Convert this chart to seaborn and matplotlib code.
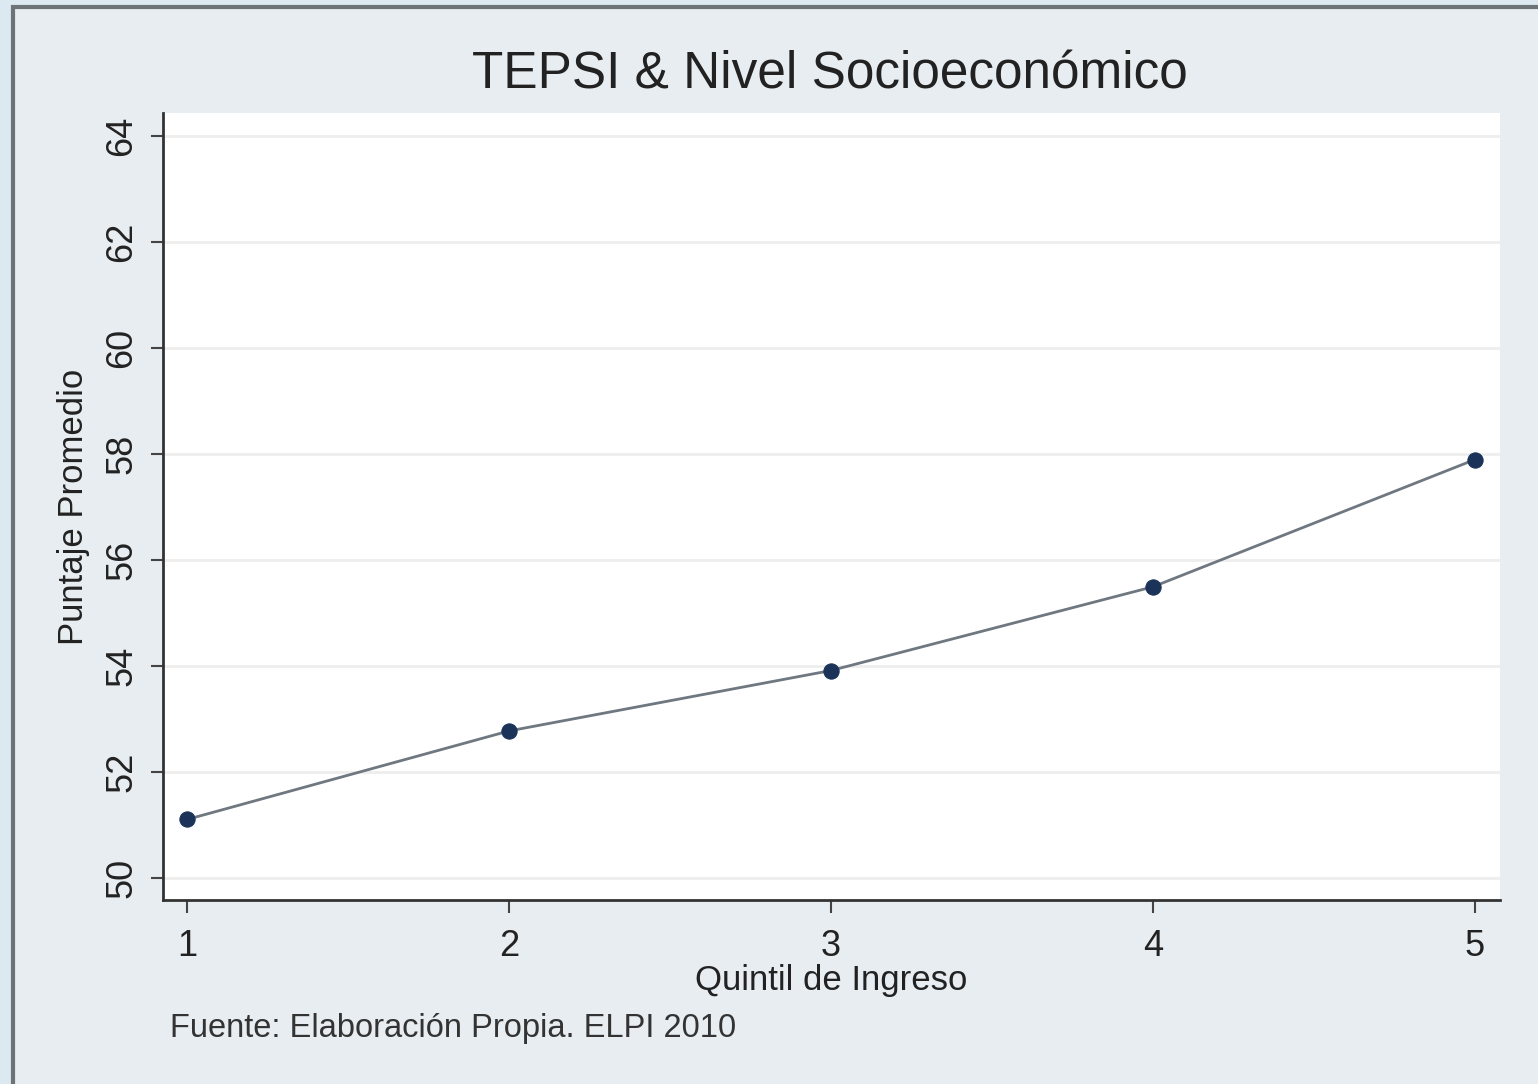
import pandas as pd
import seaborn as sb
import matplotlib.pyplot as plt
from matplotlib.patches import Rectangle

quintiles = [1, 2, 3, 4, 5]
scores = [51.1, 52.77, 53.91, 55.49, 57.89]
yticks = [50, 52, 54, 56, 58, 60, 62, 64]

df = pd.DataFrame({'quintil': quintiles, 'puntaje': scores})

sb.set_theme(style='white')
plt.rcParams['font.family'] = ['Liberation Sans', 'DejaVu Sans']

fig = plt.figure(figsize=(15.38, 10.84), dpi=100, facecolor='#dde9f1')
# inner panel with dark border
W, H = 1538, 1084
fig.patches.append(Rectangle((13 / W, -0.1), 1.1, 1.1 - 7 / H, transform=fig.transFigure,
                             facecolor='#e7edf1', edgecolor='#6e7378', linewidth=3, zorder=-5))

ax = fig.add_axes([163 / W, 1 - 900 / H, (1500 - 163) / W, (900 - 113) / H])
ax.set_facecolor('white')
ax.set_zorder(2)

sb.lineplot(data=df, x='quintil', y='puntaje', ax=ax, color='#6f7780', linewidth=2,
            marker='o', markersize=11, markerfacecolor='#1b3358', markeredgecolor='#1b3358')

ax.set_xlim(0.925, 5.078)
ax.set_ylim(49.58, 64.43)
ax.set_xticks(quintiles)
ax.set_yticks(yticks)
ax.set_xticklabels([str(q) for q in quintiles], fontsize=26, color='#222222')
ax.set_yticklabels([str(t) for t in yticks], fontsize=26, rotation=90, va='center', color='#222222')
ax.yaxis.grid(True, color='#eeeeee', linewidth=2)
ax.tick_params(axis='x', length=9, width=1.5, color='#444444', bottom=True, pad=12)
ax.tick_params(axis='y', length=9, width=1.5, color='#444444', left=True, pad=8)

for s in ['top', 'right']:
    ax.spines[s].set_visible(False)
for s in ['left', 'bottom']:
    ax.spines[s].set_color('#333333')
    ax.spines[s].set_linewidth(2)

ax.set_xlabel('Quintil de Ingreso', fontsize=25, color='#222222', labelpad=0)
ax.set_ylabel('Puntaje Promedio', fontsize=25, color='#222222', labelpad=10)

fig.text(830 / W, 1 - 75 / H, 'TEPSI & Nivel Socioeconómico', fontsize=37, ha='center',
         va='center', color='#222222')
fig.text(170 / W, 1 - 1028 / H, 'Fuente: Elaboración Propia. ELPI 2010', fontsize=23.5,
         ha='left', va='center', color='#333333')

fig.savefig('out.png', dpi=100, facecolor=fig.get_facecolor())
